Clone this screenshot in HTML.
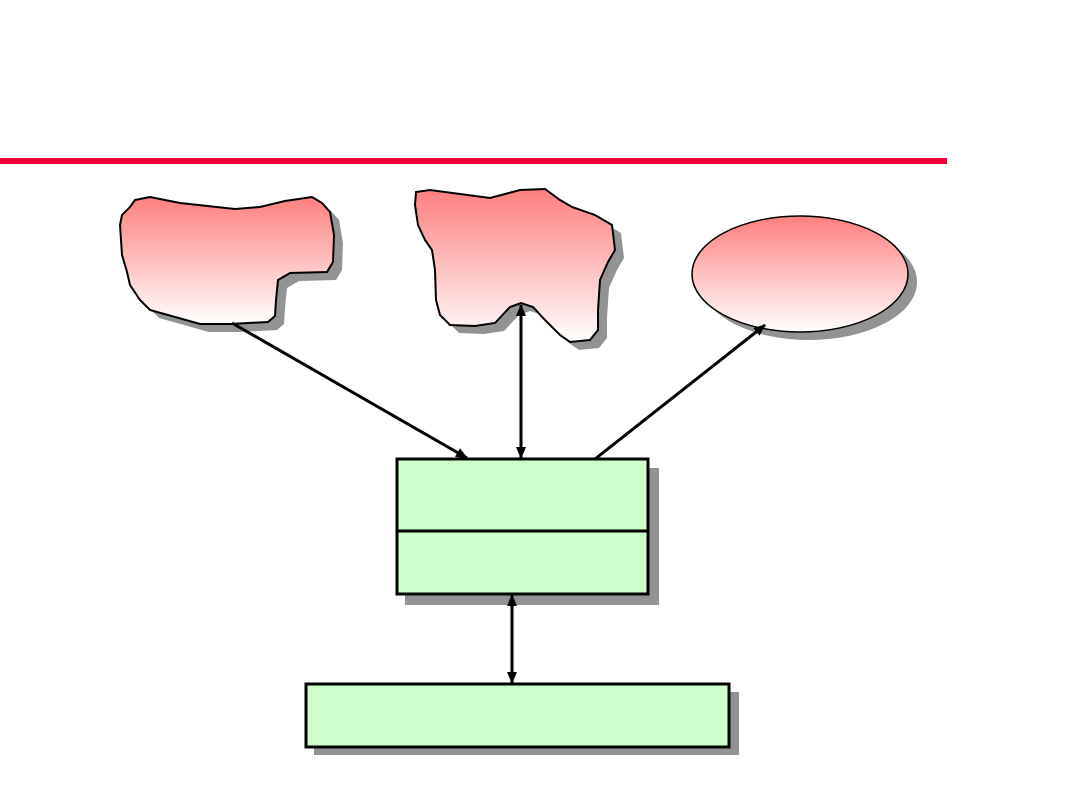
<!DOCTYPE html>
<html><head><meta charset="utf-8"><style>html,body{margin:0;padding:0;background:#fff;}svg{display:block}</style></head>
<body>
<svg width="1080" height="810" viewBox="0 0 1080 810" xmlns="http://www.w3.org/2000/svg">
<defs>
<linearGradient id="g" x1="0" y1="0" x2="0" y2="1"><stop offset="0" stop-color="#ff7f7f"/><stop offset="1" stop-color="#ffffff"/></linearGradient>
<marker id="a" markerWidth="12" markerHeight="10" refX="11" refY="5" orient="auto" markerUnits="userSpaceOnUse"><path d="M0,0 L12,5 L0,10 z" fill="#000"/></marker>
<marker id="b" markerWidth="12" markerHeight="10" refX="1" refY="5" orient="auto" markerUnits="userSpaceOnUse"><path d="M12,0 L0,5 L12,10 z" fill="#000"/></marker>
<path id="p1" d="M135,200 L150,197 L180,203 L235,209 L260,207 L285,201 L312,197 L322,203 L330,212 L334,235 L333,262 L327,272 L290,273 L278,280 L276,300 L275,316 L268,322 L230,324 L200,324 L150,310 L140,300 L130,285 L127,272 L122,255 L120,225 L122,215 L130,207 Z"/>
<path id="p2" d="M416,192 L430,190 L490,198 L520,190 L545,189 L560,200 L572,207 L595,215 L612,225 L615,250 L608,262 L600,280 L598,310 L598,330 L590,340 L570,342 L560,335 L545,320 L533,307 L521,303 L510,307 L495,323 L475,326 L450,325 L440,315 L436,300 L435,270 L432,250 L425,240 L418,225 L415,205 Z"/>
</defs>
<rect x="0" y="158" width="947" height="6" fill="#ee0033"/>
<use href="#p1" transform="translate(9,8)" fill="#939393"/>
<use href="#p1" fill="url(#g)" stroke="#000" stroke-width="2"/>
<use href="#p2" transform="translate(9,8)" fill="#939393"/>
<use href="#p2" fill="url(#g)" stroke="#000" stroke-width="2"/>
<ellipse cx="809" cy="282" rx="108" ry="58" fill="#939393"/>
<ellipse cx="800" cy="274" rx="108" ry="58" fill="url(#g)" stroke="#000" stroke-width="1.5"/>
<rect x="405" y="468" width="254" height="137" fill="#939393"/>
<rect x="397" y="459" width="251" height="135" fill="#ccffcc" stroke="#000" stroke-width="3"/>
<line x1="397" y1="531" x2="648" y2="531" stroke="#000" stroke-width="3"/>
<rect x="314" y="692" width="425" height="63" fill="#939393"/>
<rect x="306" y="684" width="423" height="63" fill="#ccffcc" stroke="#000" stroke-width="3"/>
<g stroke="#000" stroke-width="3" fill="none">
<line x1="232" y1="323" x2="467" y2="458" marker-end="url(#a)"/>
<line x1="521" y1="305" x2="521" y2="458" marker-end="url(#a)" marker-start="url(#b)"/>
<line x1="595" y1="459" x2="765" y2="325" marker-end="url(#a)"/>
<line x1="512" y1="595" x2="512" y2="683" marker-end="url(#a)" marker-start="url(#b)"/>
</g>
</svg>
</body></html>
